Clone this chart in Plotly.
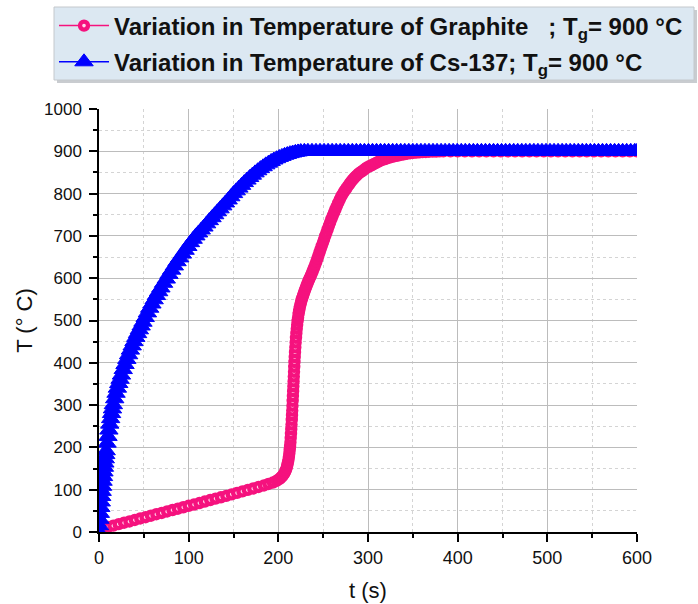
import plotly.graph_objects as go

# ---- Graphite (pink) ----
t_graphite = [10, 16, 22, 28, 34, 40, 46, 52, 58, 64, 70, 76, 82, 88, 94, 100, 106, 112, 118, 124,
              130, 136, 142, 148, 154, 160, 166, 172, 178, 184, 189, 194, 198,
              201.0, 202.5, 204.0, 205.3, 206.5, 207.6, 208.5, 209.3, 210.0, 210.7, 211.3, 211.8, 212.3,
              212.7, 213.1, 213.5, 213.8, 214.1, 214.4, 214.7, 215.0, 215.25, 215.5, 215.75, 216.0,
              216.25, 216.5, 216.75, 217.0, 217.25, 217.5, 217.75, 218.0, 218.3, 218.6, 218.95, 219.3,
              219.7, 220.1, 220.55, 221.0, 221.5, 222.0,
              222.6, 223.2, 223.85, 224.5, 225.25, 226, 226.75, 227.5, 228.25, 229, 229.85, 230.7,
              231.6, 232.5, 233.4, 234.3, 235.25, 236.2, 237.2, 238.2, 239.25, 240.3, 241.4, 242.5,
              243.65, 244.8, 246, 247.2, 248.45, 249.7, 251, 252.3, 253.65, 255, 256.4, 257.8, 259.25,
              260.7, 262.2, 263.7, 265.25, 266.8, 268.4, 270, 271.75, 273.5, 275.25, 277, 279, 281,
              283, 285, 287.25, 289.5, 291.75, 294, 296.5, 299, 301.5, 304, 306.75, 309.5, 312.25,
              315, 318, 321, 324, 327, 330.25, 333.5, 336.75, 340, 343.5, 347, 350.5, 354, 357.5,
              361, 364.5, 368, 372, 376, 380, 384, 392, 400, 408, 416, 424, 432, 440, 448, 456, 464,
              472, 480, 488, 496, 504, 512, 520, 528, 536, 544, 552, 560, 568, 576, 584, 592, 600]
T_graphite = [12, 15, 18.5, 22, 25, 28.5, 32, 35, 38.5, 42, 45, 48.5, 52, 55, 58.5, 62, 65, 68.5, 72, 75.5,
              79, 82, 85.5, 89, 92.5, 96, 99.5, 103, 106.5, 110, 113.5, 117, 121,
              125, 128, 131, 134.5, 138, 142.5, 147, 152, 158, 164.5, 171, 178, 186,
              194, 203, 212, 222, 232, 243, 254, 265, 276, 287, 298.5, 310,
              321.5, 333, 344.5, 356, 367.5, 379, 390.5, 402, 413.5, 425, 436.5, 448,
              459, 470, 480.5, 490, 499, 507,
              515.5, 523, 530, 536.5, 543, 548.5, 553.5, 558.5, 563.5, 568, 573, 578,
              583, 588, 592.5, 597, 601.5, 606, 611, 616, 621.5, 627, 633.5, 640,
              647, 654, 661.5, 669, 676.5, 684, 692, 700, 708, 716, 724, 732, 740,
              748, 755.5, 763, 770.5, 778, 785.5, 793, 799, 805, 810.5, 816, 822, 828,
              833, 838, 842.5, 847, 850.5, 854, 858, 862, 864.5, 867, 870, 873, 876,
              879, 881, 883, 885, 887, 888.5, 890, 891.5, 893, 894.3, 895.5, 896.3, 897, 897.5,
              898, 898.5, 899, 899.3, 899.5, 899.8, 900, 900, 900, 900, 900, 900, 900, 900, 900, 900, 900,
              900, 900, 900, 900, 900, 900, 900, 900, 900, 900, 900, 900, 900, 900, 900, 900, 900]

# ---- Cs-137 (blue) ----
t_cs = [0, 0.5, 1, 1.5, 2, 2.5, 3, 3.5, 4, 4.5, 5, 5.5, 6, 6.5, 7, 7.5, 8, 9, 10, 11, 12, 13, 14, 15, 16,
        17.5, 19, 20.5, 22, 23.5, 25, 27, 29, 31, 33, 35, 37, 39, 41, 43, 45, 47, 49, 51.5, 54, 56.5, 59,
        61.5, 64, 66.5, 69, 72, 75, 78, 81, 84, 87, 90, 93, 96, 99, 102, 105, 108, 111, 114, 117, 120,
        123, 126, 129, 132, 135, 138, 141, 144, 147, 150, 153, 156, 159, 162, 165, 168, 171, 174, 177,
        180, 183, 186, 189, 192, 195, 198, 201, 204, 207, 210, 213, 216, 219, 222, 225, 229,
        233, 237.5, 242, 246.5, 251, 255.5, 260, 264.5, 269, 273.5, 278, 282.5, 287, 291.5, 296, 300.5,
        305, 309.5, 314, 318.5, 323, 327.5, 332, 336.5, 341, 345.5, 350, 354.5, 359, 363.5, 368, 372.5,
        377, 381.5, 386, 390.5, 395, 399.5, 404, 408.5, 413, 417.5, 422, 426.5, 431, 435.5, 440, 444.5,
        449, 453.5, 458, 462.5, 467, 471.5, 476, 480.5, 485, 489.5, 494, 498.5, 503, 507.5, 512, 516.5,
        521, 525.5, 530, 534.5, 539, 543.5, 548, 552.5, 557, 561.5, 566, 570.5, 575, 579.5, 584, 588.5,
        593, 597.5, 600]
T_cs = [0, 15, 30, 44, 58, 71, 84, 96, 108, 120, 131, 142, 153, 163, 173, 183, 192, 210, 226, 241, 255, 268, 280, 291, 301,
        315, 328, 340, 351, 361, 371, 384, 396, 408, 419, 430, 440, 450, 460, 469, 478, 487, 496, 507, 518, 529, 539,
        549, 559, 568, 577, 588, 598, 609, 619, 629, 639, 648, 657, 666, 675, 684, 692, 700, 707, 714, 721, 728.5,
        736, 743, 750, 757, 764, 771, 778, 785, 792.5, 800, 806.5, 813, 819.5, 826, 832, 838, 843.5, 849, 854,
        859, 863.5, 868, 872, 876, 879.5, 882.5, 885.5, 888, 890.5, 892.5, 894.5, 896, 897.5, 898.5, 899.5, 900,
        900, 900, 900, 900, 900, 900, 900, 900, 900, 900, 900, 900, 900, 900, 900, 900,
        900, 900, 900, 900, 900, 900, 900, 900, 900, 900, 900, 900, 900, 900, 900, 900,
        900, 900, 900, 900, 900, 900, 900, 900, 900, 900, 900, 900, 900, 900, 900, 900,
        900, 900, 900, 900, 900, 900, 900, 900, 900, 900, 900, 900, 900, 900, 900, 900,
        900, 900, 900, 900, 900, 900, 900, 900, 900, 900, 900, 900, 900, 900, 900, 900,
        900, 900, 900]

x_ticks = [0, 100, 200, 300, 400, 500, 600]
y_ticks = [0, 100, 200, 300, 400, 500, 600, 700, 800, 900, 1000]

name_graphite = "Variation in Temperature of Graphite\u00a0\u00a0 ; T<sub>g</sub>= 900 °C"
name_cs = "Variation in Temperature of Cs-137; T<sub>g</sub>= 900 °C"

PINK = "#f5127e"
BLUE = "#0000ff"
FONT = "Liberation Sans, Arial, sans-serif"

# plot area in pixels (for converting the legend panel position to paper units)
L, R, T, B = 99, 637, 109, 532


def px_x(p):
    return (p - L) / (R - L)


def px_y(p):
    return (B - p) / (B - T)


fig = go.Figure()
fig.add_trace(go.Scatter(
    x=t_graphite, y=T_graphite, mode="lines+markers", name=name_graphite,
    legendgroup="g",
    line=dict(color=PINK, width=1.5),
    marker=dict(symbol="circle", size=8, color="#ffd6ea", line=dict(color=PINK, width=4.4)),
))
fig.add_trace(go.Scatter(
    x=t_cs, y=T_cs, mode="lines+markers", name=name_cs,
    legendgroup="c",
    line=dict(color=BLUE, width=1.5),
    marker=dict(symbol="triangle-up", size=16, color=BLUE, line=dict(color=BLUE, width=1)),
))

grid_major = "#bcbcbc"
grid_minor = "#d4d4d4"

# legend panel (shadow + light blue box)
fig.add_shape(type="rect", xref="paper", yref="paper",
              x0=px_x(57), x1=px_x(697), y0=px_y(83), y1=px_y(10),
              fillcolor="#c9ccd0", line=dict(width=0), layer="above")
fig.add_shape(type="rect", xref="paper", yref="paper",
              x0=px_x(54), x1=px_x(694), y0=px_y(80), y1=px_y(7),
              fillcolor="#dce8f2", line=dict(color="#c4c8cc", width=1), layer="above")

fig.update_layout(
    width=698, height=604,
    margin=dict(l=L, r=698 - R, t=T, b=604 - B, autoexpand=False),
    paper_bgcolor="white", plot_bgcolor="white",
    font=dict(family=FONT, color="#111"),
    showlegend=True,
    legend=dict(
        x=px_x(54), xanchor="left", y=px_y(3.5), yanchor="top",
        bgcolor="rgba(0,0,0,0)", borderwidth=0,
        font=dict(family=FONT, size=24, color="#111", weight=700),
        tracegroupgap=2, itemwidth=50,
    ),
    xaxis=dict(
        range=[0, 600], tickvals=x_ticks, ticktext=[str(v) for v in x_ticks],
        showline=True, linecolor="black", linewidth=1.5,
        ticks="outside", ticklen=8, tickwidth=1.5, tickcolor="black",
        tickfont=dict(size=18, family=FONT, color="#111"),
        showgrid=True, gridcolor=grid_major, gridwidth=1,
        minor=dict(dtick=50, tick0=0, ticks="outside", ticklen=4, tickwidth=1.5, tickcolor="black",
                   showgrid=True, gridcolor=grid_minor, griddash="dot", gridwidth=1),
        zeroline=False, automargin=False,
        title=dict(text="t (s)", font=dict(size=22, family=FONT, color="#111"), standoff=15),
        ticklabelstandoff=1,
    ),
    yaxis=dict(
        range=[0, 1000], tickvals=y_ticks, ticktext=[str(v) for v in y_ticks],
        showline=True, linecolor="black", linewidth=1.5,
        ticks="outside", ticklen=8, tickwidth=1.5, tickcolor="black",
        tickfont=dict(size=17, family=FONT, color="#111"),
        showgrid=True, gridcolor=grid_major, gridwidth=1,
        minor=dict(dtick=50, tick0=0, ticks="outside", ticklen=4, tickwidth=1.5, tickcolor="black",
                   showgrid=True, gridcolor=grid_minor, griddash="dot", gridwidth=1),
        zeroline=False, automargin=False,
        title=dict(text="T (° C)", font=dict(size=22, family=FONT, color="#111"), standoff=5),
        ticklabelstandoff=4,
    ),
    xaxis2=dict(
        overlaying="x", anchor="y", side="top", matches="x", range=[0, 600],
        tickvals=x_ticks, showticklabels=False, automargin=False,
        showline=True, linecolor="#333", linewidth=1.5,
        ticks="inside", ticklen=8, tickwidth=1.5, tickcolor="#333",
        minor=dict(dtick=50, tick0=0, ticks="inside", ticklen=4, tickwidth=1.5, tickcolor="#333", showgrid=False),
        showgrid=False, zeroline=False,
    ),
    yaxis2=dict(
        overlaying="y", anchor="x", side="right", matches="y", range=[0, 1000],
        tickvals=y_ticks, showticklabels=False, automargin=False,
        showline=True, linecolor="#333", linewidth=1.5,
        ticks="inside", ticklen=8, tickwidth=1.5, tickcolor="#333",
        minor=dict(dtick=50, tick0=0, ticks="inside", ticklen=4, tickwidth=1.5, tickcolor="#333", showgrid=False),
        showgrid=False, zeroline=False,
    ),
)

fig.write_html("out.html", config={"displayModeBar": False},
               post_script="document.body.style.margin='0px';document.body.style.padding='0px';")
